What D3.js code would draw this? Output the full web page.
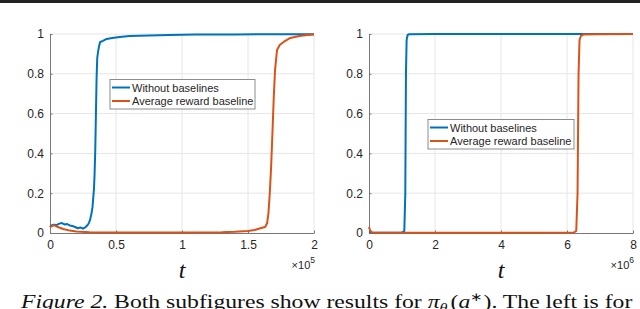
<!DOCTYPE html>
<html>
<head>
<meta charset="utf-8">
<script src="https://cdn.jsdelivr.net/npm/d3@7"></script>
<style>
  body { margin: 0; background: #fff; }
  svg { display: block; }
</style>
</head>
<body>
<script>
// values (t in units of the x10^n multiplier)
const seriesNames = ["Without baselines", "Average reward baseline"];
const colors = ["#0072BD", "#D95319"];

const leftBlueT = [0, 0.01, 0.03, 0.05, 0.07, 0.09, 0.11, 0.13, 0.15, 0.17, 0.19, 0.21, 0.23, 0.25, 0.27, 0.285, 0.295, 0.305, 0.315, 0.322, 0.328, 0.333, 0.338, 0.343, 0.348, 0.353, 0.358, 0.364, 0.372, 0.38, 0.4, 0.43, 0.47, 0.53, 0.6, 0.75, 0.9, 1.1, 1.4, 2.0];
const leftBlueV = [0.03, 0.038, 0.042, 0.04, 0.047, 0.05, 0.043, 0.045, 0.038, 0.035, 0.03, 0.024, 0.028, 0.022, 0.03, 0.04, 0.05, 0.07, 0.1, 0.13, 0.18, 0.22, 0.3, 0.42, 0.6, 0.78, 0.88, 0.91, 0.94, 0.96, 0.965, 0.975, 0.98, 0.985, 0.99, 0.993, 0.995, 0.997, 0.998, 0.999];

const leftOrangeT = [0, 0.03, 0.06, 0.1, 0.15, 0.2, 0.3, 0.5, 0.8, 1.1, 1.3, 1.4, 1.5, 1.55, 1.6, 1.63, 1.645, 1.655, 1.665, 1.675, 1.685, 1.695, 1.705, 1.72, 1.74, 1.77, 1.82, 1.89, 1.95, 2.0];
const leftOrangeV = [0.03, 0.04, 0.03, 0.02, 0.012, 0.008, 0.004, 0.002, 0.002, 0.003, 0.004, 0.006, 0.01, 0.015, 0.025, 0.03, 0.05, 0.1, 0.2, 0.33, 0.5, 0.68, 0.82, 0.92, 0.945, 0.96, 0.98, 0.99, 0.995, 0.997];

const rightBlueT = [0, 0.1, 0.5, 1.0, 1.07, 1.1, 1.12, 1.14, 1.17, 1.22, 2, 4, 6, 8];
const rightBlueV = [0.005, 0.002, 0.001, 0.003, 0.01, 0.2, 0.8, 0.97, 0.995, 0.999, 1, 1, 1, 1];

const rightOrangeT = [0, 0.03, 0.08, 0.2, 3, 6.2, 6.28, 6.32, 6.35, 6.38, 6.42, 6.5, 7, 8];
const rightOrangeV = [0.03, 0.015, 0.003, 0.001, 0.001, 0.002, 0.01, 0.2, 0.8, 0.97, 0.99, 0.997, 0.999, 1];

const leftXTicks = [0, 0.5, 1, 1.5, 2];
const rightXTicks = [0, 2, 4, 6, 8];
const yTicks = [0, 0.2, 0.4, 0.6, 0.8, 1];

const W = 640, H = 309;
const svg = d3.select("body").append("svg")
    .attr("width", W)
    .attr("height", H);

// black rule at the top of the page
svg.append("rect").attr("x", 0).attr("y", 0).attr("width", W).attr("height", 3).attr("fill", "#222");

function zip(ts, vs) {
  return ts.map(function(t, i) { return [t, vs[i]]; });
}

function panel(opts) {
  const x = d3.scaleLinear().domain(opts.xDomain).range([opts.left, opts.right]);
  const y = d3.scaleLinear().domain([0, 1]).range([233, 34]);
  const g = svg.append("g");

  // grid
  g.selectAll(".gx").data(opts.xTicks.slice(1)).enter().append("line")
      .attr("x1", d => x(d)).attr("x2", d => x(d))
      .attr("y1", y(0)).attr("y2", y(1))
      .attr("stroke", "#e6e6e6").attr("stroke-width", 1);
  g.selectAll(".gy").data(yTicks.slice(1)).enter().append("line")
      .attr("x1", x(opts.xDomain[0])).attr("x2", x(opts.xDomain[1]))
      .attr("y1", d => y(d)).attr("y2", d => y(d))
      .attr("stroke", "#e6e6e6").attr("stroke-width", 1);

  // axes
  const xAxis = g.append("g")
      .attr("transform", "translate(0," + y(0) + ")")
      .call(d3.axisBottom(x).tickValues(opts.xTicks).tickSizeInner(-2.5).tickSizeOuter(0).tickPadding(7).tickFormat(d => String(d)));
  const yAxis = g.append("g")
      .attr("transform", "translate(" + x(opts.xDomain[0]) + ",0)")
      .call(d3.axisLeft(y).tickValues(yTicks).tickSizeInner(-2.5).tickSizeOuter(0).tickPadding(6).tickFormat(d => String(d)));
  [xAxis, yAxis].forEach(function(a) {
    a.select(".domain").attr("stroke", "#777");
    a.selectAll(".tick line").attr("stroke", "#777");
    a.selectAll(".tick text")
      .attr("fill", "#262626")
      .style("font-family", "'Liberation Sans', Arial, sans-serif")
      .style("font-size", "12px");
  });

  // series
  const line = d3.line().x(d => x(d[0])).y(d => y(d[1]));
  opts.series.forEach(function(s, i) {
    g.append("path")
        .datum(s)
        .attr("fill", "none")
        .attr("stroke", colors[i])
        .attr("stroke-width", 2)
        .attr("stroke-linejoin", "round")
        .attr("d", line);
  });

  // legend
  const lg = g.append("g").attr("transform", "translate(" + opts.legend[0] + "," + opts.legend[1] + ")");
  lg.append("rect")
      .attr("x", 0).attr("y", 0)
      .attr("width", opts.legend[2]).attr("height", 29.5)
      .attr("fill", "#fff").attr("stroke", "#8c8c8c").attr("stroke-width", 1);
  seriesNames.forEach(function(n, i) {
    const yy = 8 + i * 13.5;
    lg.append("line")
        .attr("x1", 2).attr("x2", 20).attr("y1", yy).attr("y2", yy)
        .attr("stroke", colors[i]).attr("stroke-width", 2);
    lg.append("text")
        .attr("x", 22).attr("y", yy + 4)
        .attr("fill", "#262626")
        .style("font-family", "'Liberation Sans', Arial, sans-serif")
        .style("font-size", "11px")
        .text(n);
  });

  // x label
  g.append("text")
      .attr("x", (opts.left + opts.right) / 2).attr("y", 278)
      .attr("text-anchor", "middle")
      .style("font-family", "'Liberation Serif', 'Times New Roman', serif")
      .style("font-style", "italic")
      .style("font-size", "24px")
      .attr("fill", "#111")
      .text("t");

  // multiplier
  const m = g.append("text")
      .attr("x", opts.right + 1).attr("y", 269)
      .attr("text-anchor", "end")
      .style("font-family", "'Liberation Sans', Arial, sans-serif")
      .style("font-size", "11px")
      .attr("fill", "#262626");
  m.append("tspan").text("\u00d710");
  m.append("tspan").attr("dy", -6).style("font-size", "8.5px").text(opts.exp);
}

panel({
  left: 50, right: 314,
  xDomain: [0, 2], xTicks: leftXTicks, exp: "5",
  series: [zip(leftBlueT, leftBlueV), zip(leftOrangeT, leftOrangeV)],
  legend: [110, 79.5, 145]
});
panel({
  left: 369, right: 633,
  xDomain: [0, 8], xTicks: rightXTicks, exp: "6",
  series: [zip(rightBlueT, rightBlueV), zip(rightOrangeT, rightOrangeV)],
  legend: [428, 119.5, 146]
});

// caption
const cap = svg.append("text")
    .attr("y", 0)
    .style("font-family", "'Liberation Serif', 'Times New Roman', serif")
    .style("font-size", "19px")
    .attr("fill", "#111");
cap.append("tspan").style("font-style", "italic").text("Figure 2.");
cap.append("tspan").text(" Both subfigures show results for ");
cap.append("tspan").style("font-style", "italic").text("\u03c0");
cap.append("tspan").attr("dy", 4).style("font-style", "italic").style("font-size", "13px").text("\u03b8");
cap.append("tspan").attr("dy", 3).style("font-style", "italic").style("font-size", "9px").text("t");
cap.append("tspan").attr("dy", -7).text("(");
cap.append("tspan").style("font-style", "italic").text("a");
cap.append("tspan").attr("dy", -7).style("font-size", "12px").text("\u2217");
cap.append("tspan").attr("dy", 7).text("). The left is for");
const capLen = cap.node().getComputedTextLength();
cap.attr("transform", "translate(21,307.5) scale(" + (611 / capLen) + ",1)");
</script>
</body>
</html>
